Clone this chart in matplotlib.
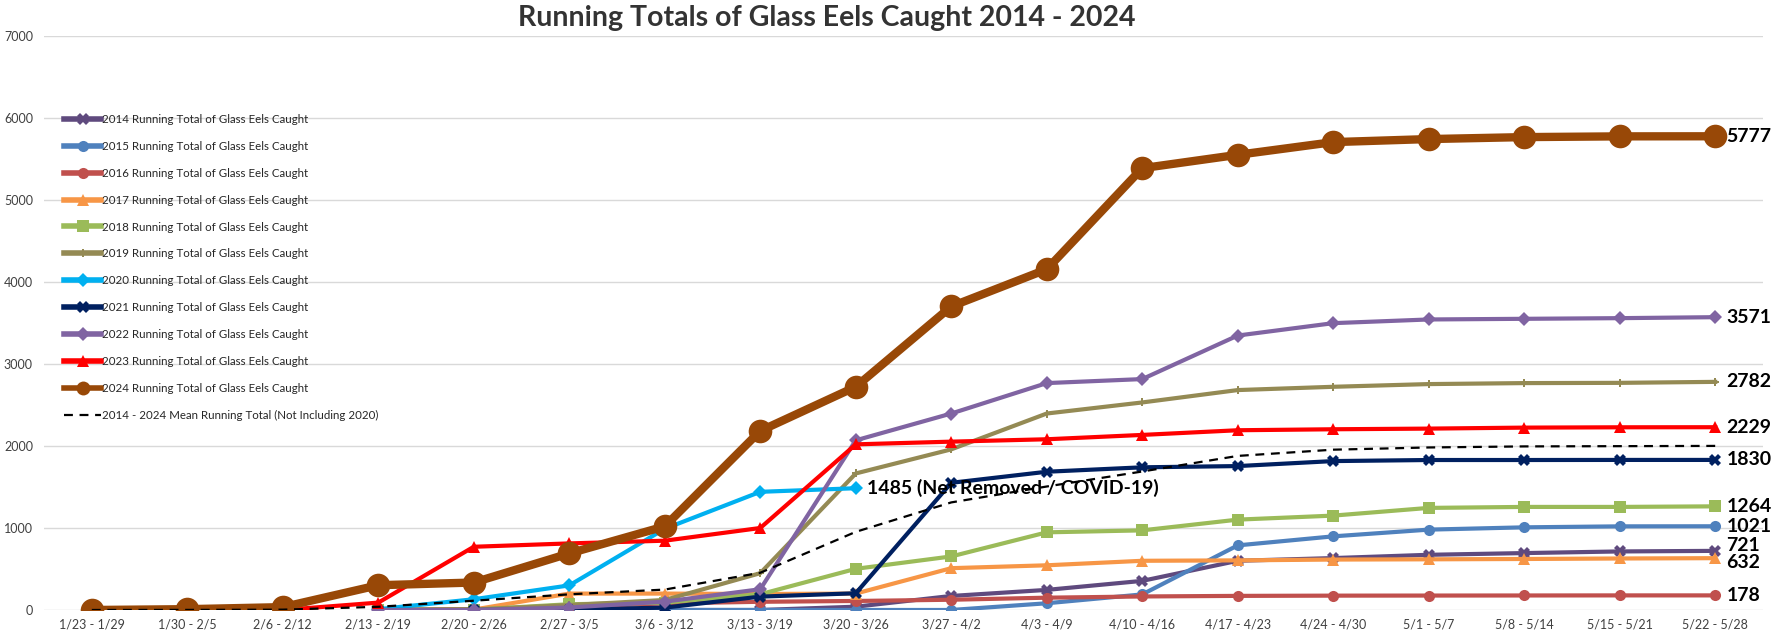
import numpy as np
import matplotlib
matplotlib.use('Agg')
import matplotlib.pyplot as plt
from matplotlib.lines import Line2D

plt.rcParams['font.family'] = ['Lato', 'DejaVu Sans']

nan = np.nan

WEEKS = ['1/23 - 1/29', '1/30 - 2/5', '2/6 - 2/12', '2/13 - 2/19', '2/20 - 2/26',
         '2/27 - 3/5', '3/6 - 3/12', '3/13 - 3/19', '3/20 - 3/26', '3/27 - 4/2',
         '4/3 - 4/9', '4/10 - 4/16', '4/17 - 4/23', '4/24 - 4/30', '5/1 - 5/7',
         '5/8 - 5/14', '5/15 - 5/21', '5/22 - 5/28']

# running totals
Y2014 = [nan, nan, nan, 0, 0, 0, 0, 0, 40, 171, 245, 355, 600, 633, 673, 694, 714, 721]
Y2015 = [nan, nan, nan, 0, 0, 0, 0, 0, 0, 0, 82, 190, 788, 898, 980, 1008, 1020, 1021]
Y2016 = [nan, nan, nan, 0, 10, 40, 80, 100, 110, 125, 150, 165, 172, 175, 176, 177, 178, 178]
Y2017 = [nan, nan, nan, 0, 5, 200, 200, 195, 200, 510, 545, 600, 605, 615, 618, 622, 628, 632]
Y2018 = [nan, nan, nan, 0, 5, 70, 90, 192, 502, 653, 947, 971, 1102, 1151, 1245, 1257, 1257, 1264]
Y2019 = [nan, nan, nan, 0, 5, 60, 122, 449, 1665, 1959, 2396, 2531, 2682, 2722, 2755, 2767, 2770, 2782]
Y2020 = [nan, nan, nan, 10, 131, 300, 990, 1441, 1485, nan, nan, nan, nan, nan, nan, nan, nan, nan]
Y2021 = [nan, nan, nan, 0, 0, 5, 29, 163, 204, 1551, 1686, 1740, 1755, 1816, 1829, 1829, 1830, 1830]
Y2022 = [nan, nan, nan, 0, 0, 30, 102, 253, 2069, 2396, 2767, 2816, 3347, 3498, 3543, 3551, 3559, 3571]
Y2023 = [nan, nan, 0, 90, 771, 812, 845, 1000, 2020, 2053, 2082, 2135, 2192, 2204, 2212, 2224, 2228, 2229]
Y2024 = [0, 10, 35, 302, 335, 690, 1020, 2184, 2722, 3702, 4155, 5388, 5551, 5706, 5743, 5767, 5776, 5777]
MEAN = [0, 1, 4, 39, 113, 191, 249, 454, 953, 1312, 1506, 1689, 1879, 1955, 1982, 1995, 1998, 2001]

YEARS = ['2014', '2015', '2016', '2017', '2018', '2019', '2020', '2021', '2022', '2023', '2024']
SERIES = [Y2014, Y2015, Y2016, Y2017, Y2018, Y2019, Y2020, Y2021, Y2022, Y2023, Y2024]

COLORS = ['#5F4A7E', '#4F81BD', '#C0504D', '#F79646', '#9BBB59', '#948A54',
          '#00B0F0', '#002060', '#8064A2', '#FF0000', '#984807']
MARKERS = ['X', 'o', 'o', '^', 's', 'P', 'D', 'X', 'D', '^', 'o']
MSIZE = [8, 8, 8, 8, 8, 6, 7, 8, 7, 8, 17]
LWIDTH = [3, 3, 3, 3, 3, 3, 3, 3, 3, 3, 6]

# end labels: (series index, point index, text, vertical offset in points)
END_LABELS = [(10, 17, '5777', 0), (8, 17, '3571', 0), (5, 17, '2782', 0),
              (9, 17, '2229', 0), (7, 17, '1830', 0), (4, 17, '1264', 0),
              (1, 17, '1021', 0), (0, 17, '721', 4), (3, 17, '632', -3),
              (2, 17, '178', 0), (6, 8, '1485 (Net Removed / COVID-19)', 0)]

fig = plt.figure(figsize=(17.77, 6.36), dpi=100)
ax = fig.add_axes([0.0248, 0.0409, 0.9673, 0.9025])

x = np.arange(len(WEEKS))
handles = []
for i, y in enumerate(SERIES):
    lab = YEARS[i] + ' Running Total of Glass Eels Caught'
    ax.plot(x, y, color=COLORS[i], lw=LWIDTH[i], marker=MARKERS[i],
            markersize=MSIZE[i], markeredgewidth=0, zorder=3 + i)
    handles.append(Line2D([], [], color=COLORS[i], lw=4, marker=MARKERS[i],
                          markersize=min(MSIZE[i], 10), markeredgewidth=0, label=lab))
ax.plot(x, MEAN, color='black', lw=1.6, ls=(0, (4, 3)), zorder=20)
handles.append(Line2D([], [], color='black', lw=1.6, ls=(0, (4, 3)),
                      label='2014 - 2024 Mean Running Total (Not Including 2020)'))

for si, pi, txt, dy in END_LABELS:
    ax.annotate(txt, (x[pi], SERIES[si][pi]), xytext=(8, dy), textcoords='offset points',
                va='center', ha='left', fontsize=14, fontweight='bold', color='black',
                zorder=30)

ax.set_xlim(-0.5, len(WEEKS) - 0.5)
ax.set_ylim(0, 7000)
ax.set_yticks(range(0, 7001, 1000))
ax.set_xticks(x)
ax.set_xticklabels(WEEKS)
ax.tick_params(axis='both', length=0, labelsize=9, colors='#404040')
ax.tick_params(axis='y', pad=8)
ax.tick_params(axis='x', pad=6)
ax.grid(axis='y', color='#D9D9D9', lw=1)
ax.set_axisbelow(True)
for s in ax.spines.values():
    s.set_visible(False)

fig.suptitle('Running Totals of Glass Eels Caught 2014 - 2024', fontsize=20.5,
             fontweight='bold', color='#333333', x=0.465, y=0.992, va='top')

leg = fig.legend(handles=handles, loc='upper left', bbox_to_anchor=(0.033, 0.83),
                 frameon=False, fontsize=8.3, labelspacing=1.38, handlelength=3.2,
                 handletextpad=0.1, borderpad=0, labelcolor='#262626')

fig.savefig('out.png', dpi=100)
